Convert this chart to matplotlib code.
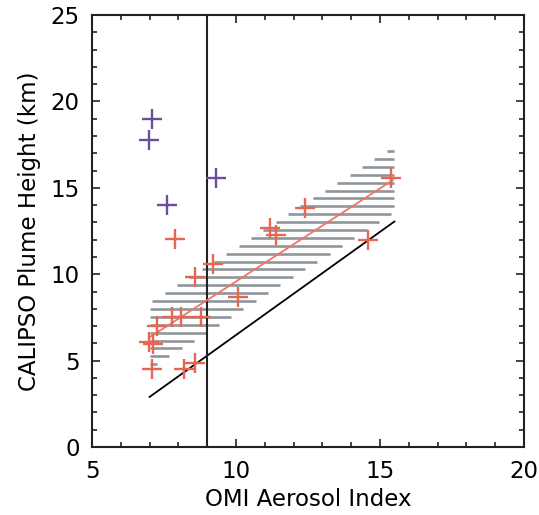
import matplotlib
matplotlib.use("Agg")
import matplotlib.pyplot as plt
import numpy as np

# red crosses (fitted plumes)
red_x = [7.89, 11.18, 11.38, 12.40, 15.38, 14.60, 9.19, 8.58, 10.08, 8.77,
         7.77, 8.08, 7.24, 6.99, 7.11, 7.07, 8.19, 8.58]
red_y = [12.02, 12.66, 12.27, 13.81, 15.55, 11.98, 10.59, 9.86, 8.66, 7.50,
         7.54, 7.54, 7.00, 6.10, 5.98, 4.50, 4.50, 4.84]

# purple crosses (outliers)
pur_x = [7.07, 6.99, 9.30, 7.59]
pur_y = [18.98, 17.77, 15.55, 14.00]

# regression line and its band
fit_x = [7.0, 15.45]
fit_y = [6.35, 15.45]
band_x = [7.0, 15.49]
band_lo = [4.52, 13.58]
band_hi = [8.35, 17.41]
hatch_y0 = 4.79
hatch_dy = 0.457

# black reference line
ref_x = [7.0, 15.5]
ref_y = [2.9, 13.05]

vline_x = 9.0

red = '#e8654f'
purple = '#6a4fa0'

plt.rcParams['font.family'] = ['DejaVu Sans']

fig = plt.figure(figsize=(5.39, 5.15), dpi=100)
ax = fig.add_axes([0.1707, 0.132, 0.8015, 0.8388])

# horizontal line fill of the band
lo_slope = (band_lo[1] - band_lo[0]) / (band_x[1] - band_x[0])
hi_slope = (band_hi[1] - band_hi[0]) / (band_x[1] - band_x[0])
yy = hatch_y0
while yy <= band_hi[1]:
    x_left = max(band_x[0], band_x[0] + (yy - band_hi[0]) / hi_slope)
    x_right = min(band_x[1], band_x[0] + (yy - band_lo[0]) / lo_slope)
    if x_right > x_left:
        ax.plot([x_left, x_right], [yy, yy], color='#8f969c', lw=1.9,
                solid_capstyle='butt', zorder=1)
    yy += hatch_dy

ax.plot(ref_x, ref_y, color='black', lw=1.3, zorder=2)
ax.axvline(vline_x, color='#222222', lw=1.5, zorder=2)
ax.plot(fit_x, fit_y, color='#f27462', lw=1.3, zorder=3)

ax.plot(red_x, red_y, '+', color=red, ms=14.5, mew=1.7, zorder=4)
ax.plot(pur_x, pur_y, '+', color=purple, ms=14.5, mew=1.7, zorder=4)

ax.set_xlim(5, 20)
ax.set_ylim(0, 25)
ax.set_xticks([5, 10, 15, 20])
ax.set_yticks([0, 5, 10, 15, 20, 25])
ax.set_xticks(np.arange(5, 21, 1), minor=True)
ax.set_yticks(np.arange(0, 26, 1), minor=True)
ax.tick_params(which='both', direction='in', top=True, right=True,
               width=1.2, color='#222222')
ax.tick_params(which='major', length=6, labelsize=16.5, pad=9)
ax.tick_params(which='minor', length=3.5)
for s in ax.spines.values():
    s.set_linewidth(1.5)
    s.set_color('#222222')

ax.set_xlabel('OMI Aerosol Index', fontsize=16.5, labelpad=4)
ax.set_ylabel('CALIPSO Plume Height (km)', fontsize=16.5, labelpad=7)

fig.savefig('out.png', dpi=100)
